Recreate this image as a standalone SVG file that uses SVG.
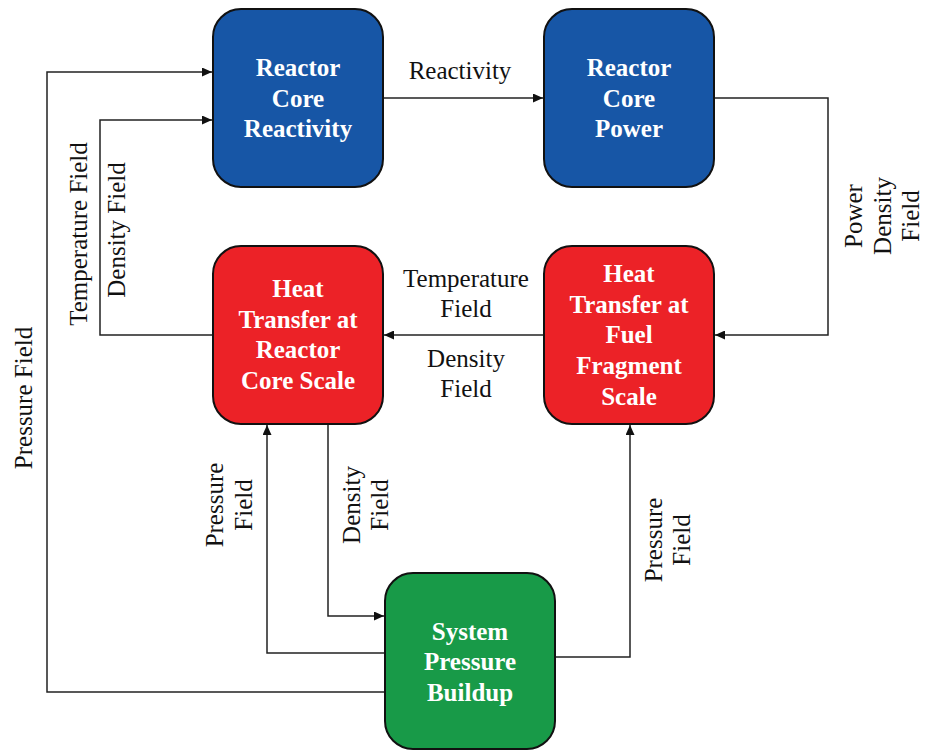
<svg xmlns="http://www.w3.org/2000/svg" width="925" height="751" viewBox="0 0 925 751">
<style>
.box{stroke:#111;stroke-width:2}
.blue{fill:#1756A6}
.red{fill:#EC2227}
.green{fill:#189A48}
.bt{font-family:"Liberation Serif","Times New Roman",serif;font-weight:bold;font-size:25px;fill:#fff;text-anchor:middle}
.lb{font-family:"Liberation Serif","Times New Roman",serif;font-size:25px;fill:#111;text-anchor:middle}
.con{fill:none;stroke:#222;stroke-width:1.5}
</style>
<defs>
<marker id="ah" markerUnits="userSpaceOnUse" markerWidth="11" markerHeight="9" refX="10" refY="4.5" orient="auto">
<path d="M0,0 L10,4.5 L0,9 z" fill="#111"/>
</marker>
</defs>
<rect width="925" height="751" fill="#fff"/>
<g id="connectors">
<path class="con" d="M383,98 H543" marker-end="url(#ah)"/>
<path class="con" d="M714,98 H828 V335 H715" marker-end="url(#ah)"/>
<path class="con" d="M544,335 H384" marker-end="url(#ah)"/>
<path class="con" d="M213,335 H100 V120 H212" marker-end="url(#ah)"/>
<path class="con" d="M385,692 H47 V72 H212" marker-end="url(#ah)"/>
<path class="con" d="M328,424 V616 H384" marker-end="url(#ah)"/>
<path class="con" d="M385,653 H267 V425" marker-end="url(#ah)"/>
<path class="con" d="M555,657 H630 V425" marker-end="url(#ah)"/>
</g>
<g id="labels">
<text class="lb" x="460" y="79">Reactivity</text>
<text class="lb" x="466" y="287">Temperature</text>
<text class="lb" x="466" y="317">Field</text>
<text class="lb" x="466" y="367">Density</text>
<text class="lb" x="466" y="397">Field</text>
<text class="lb" transform="translate(862,216) rotate(-90)">Power</text>
<text class="lb" transform="translate(891,216) rotate(-90)">Density</text>
<text class="lb" transform="translate(919,216) rotate(-90)">Field</text>
<text class="lb" transform="translate(87,234) rotate(-90)">Temperature Field</text>
<text class="lb" transform="translate(125,230) rotate(-90)">Density Field</text>
<text class="lb" transform="translate(32,398) rotate(-90)">Pressure Field</text>
<text class="lb" transform="translate(223,505) rotate(-90)">Pressure</text>
<text class="lb" transform="translate(252,505) rotate(-90)">Field</text>
<text class="lb" transform="translate(360,505) rotate(-90)">Density</text>
<text class="lb" transform="translate(388,505) rotate(-90)">Field</text>
<text class="lb" transform="translate(662,540) rotate(-90)">Pressure</text>
<text class="lb" transform="translate(690,540) rotate(-90)">Field</text>
</g>
<g id="reactor-core-reactivity">
<rect class="box blue" x="213" y="9" width="170" height="178" rx="28"/>
<text class="bt" x="298" y="76">Reactor</text>
<text class="bt" x="298" y="107">Core</text>
<text class="bt" x="298" y="137">Reactivity</text>
</g>
<g id="reactor-core-power">
<rect class="box blue" x="544" y="9" width="170" height="178" rx="28"/>
<text class="bt" x="629" y="76">Reactor</text>
<text class="bt" x="629" y="107">Core</text>
<text class="bt" x="629" y="137">Power</text>
</g>
<g id="heat-transfer-fuel">
<rect class="box red" x="544" y="246" width="170" height="178" rx="28"/>
<text class="bt" x="629" y="282">Heat</text>
<text class="bt" x="629" y="313">Transfer at</text>
<text class="bt" x="629" y="343">Fuel</text>
<text class="bt" x="629" y="374">Fragment</text>
<text class="bt" x="629" y="405">Scale</text>
</g>
<g id="heat-transfer-core">
<rect class="box red" x="213" y="246" width="170" height="178" rx="28"/>
<text class="bt" x="298" y="297">Heat</text>
<text class="bt" x="298" y="328">Transfer at</text>
<text class="bt" x="298" y="358">Reactor</text>
<text class="bt" x="298" y="389">Core Scale</text>
</g>
<g id="system-pressure">
<rect class="box green" x="385" y="573" width="170" height="176" rx="28"/>
<text class="bt" x="470" y="640">System</text>
<text class="bt" x="470" y="670">Pressure</text>
<text class="bt" x="470" y="701">Buildup</text>
</g>
</svg>
